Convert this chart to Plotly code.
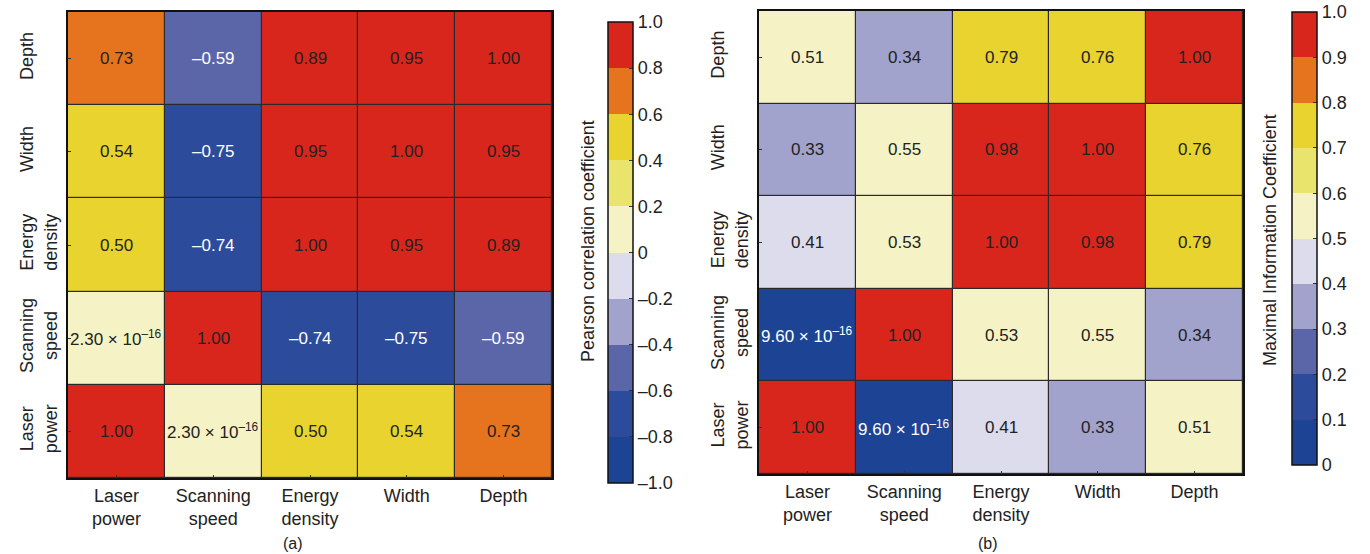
import plotly.graph_objects as go

# ---------------- data ----------------
features = ["Laser power", "Scanning speed", "Energy density", "Width", "Depth"]
x_tick_labels = ["Laser<br>power", "Scanning<br>speed", "Energy<br>density", "Width", "Depth"]
y_tick_labels = ["Laser<br>power", "Scanning<br>speed", "Energy<br>density", "Width<br>\u00a0", "Depth<br>\u00a0"]

# rows listed from bottom (Laser power) to top (Depth); columns in feature order
pearson = [
    [1.00, 2.30e-16, 0.50, 0.54, 0.73],
    [2.30e-16, 1.00, -0.74, -0.75, -0.59],
    [0.50, -0.74, 1.00, 0.95, 0.89],
    [0.54, -0.75, 0.95, 1.00, 0.95],
    [0.73, -0.59, 0.89, 0.95, 1.00],
]
mic = [
    [1.00, 9.60e-16, 0.41, 0.33, 0.51],
    [9.60e-16, 1.00, 0.53, 0.55, 0.34],
    [0.41, 0.53, 1.00, 0.98, 0.79],
    [0.33, 0.55, 0.98, 1.00, 0.76],
    [0.51, 0.34, 0.79, 0.76, 1.00],
]

pearson_ticks = [-1.0, -0.8, -0.6, -0.4, -0.2, 0, 0.2, 0.4, 0.6, 0.8, 1.0]
pearson_ticktext = ["–1.0", "–0.8", "–0.6", "–0.4", "–0.2", "0", "0.2", "0.4", "0.6", "0.8", "1.0"]
mic_ticks = [0, 0.1, 0.2, 0.3, 0.4, 0.5, 0.6, 0.7, 0.8, 0.9, 1.0]
mic_ticktext = ["0", "0.1", "0.2", "0.3", "0.4", "0.5", "0.6", "0.7", "0.8", "0.9", "1.0"]

bin_colors = ["#1d4494", "#2d4b9b", "#5b66a9", "#a2a3cc", "#dcdcec",
              "#f5f3c6", "#e8e46c", "#e8d32f", "#e6741f", "#d9261c"]

# ---------------- helpers ----------------
def discrete_scale(colors):
    n = len(colors)
    cs = []
    for i, c in enumerate(colors):
        cs.append([i / n, c])
        cs.append([(i + 1) / n, c])
    return cs

def fmt(v):
    if v != 0 and abs(v) < 1e-3:
        s = f"{v:.2e}"
        mant, exp = s.split("e")
        exp = int(exp)
        e = ("–" if exp < 0 else "") + str(abs(exp))
        return f"{mant} × 10<sup>{e}</sup>"
    s = f"{v:.2f}"
    return s.replace("-", "–")

FONT = "Arial, Liberation Sans, Helvetica, sans-serif"
TXT = "#222222"
scale = discrete_scale(bin_colors)

fig = go.Figure()

W, H = 1370, 554
panels = [
    dict(z=pearson, zmin=-1, zmax=1, xa="x", ya="y",
         dom_x=[68 / W, 552 / W], dom_y=[1 - 478 / H, 1 - 12 / H],
         cb_x=608 / W, cb_top=1 - 22 / H, cb_len=461 / H,
         tv=pearson_ticks, tt=pearson_ticktext,
         title="Pearson correlation coefficient", title_x=588 / W, title_y=1 - 241 / H),
    dict(z=mic, zmin=0, zmax=1, xa="x2", ya="y2",
         dom_x=[759 / W, 1243 / W], dom_y=[1 - 474 / H, 1 - 11 / H],
         cb_x=1292 / W, cb_top=1 - 12 / H, cb_len=453 / H,
         tv=mic_ticks, tt=mic_ticktext,
         title="Maximal Information Coefficient", title_x=1270 / W, title_y=1 - 240 / H),
]

annotations = []
for p in panels:
    fig.add_trace(go.Heatmap(
        z=p["z"], x=features, y=features,
        xaxis=p["xa"], yaxis=p["ya"],
        zmin=p["zmin"], zmax=p["zmax"], colorscale=scale,
        xgap=1.2, ygap=1.2, hoverinfo="skip",
        colorbar=dict(
            x=p["cb_x"], xanchor="left", y=p["cb_top"], yanchor="top",
            len=p["cb_len"], lenmode="fraction", thickness=25,
            xpad=0, ypad=0, outlinewidth=1.5, outlinecolor="#111111",
            tickvals=p["tv"], ticktext=p["tt"], ticks="inside", ticklen=4,
            tickcolor="#333333", tickfont=dict(family=FONT, size=18, color=TXT),
        ),
    ))
    zmin, zmax = p["zmin"], p["zmax"]
    for r, row in enumerate(p["z"]):
        for c, v in enumerate(row):
            frac = (v - zmin) / (zmax - zmin)
            color = "white" if frac < 0.3 else TXT
            annotations.append(dict(
                x=features[c], y=features[r], xref=p["xa"], yref=p["ya"],
                text=fmt(v), showarrow=False,
                font=dict(family=FONT, size=17, color=color),
            ))
    annotations.append(dict(
        x=p["title_x"], y=p["title_y"], xref="paper", yref="paper",
        text=p["title"], textangle=-90, showarrow=False,
        font=dict(family=FONT, size=18, color=TXT),
        xanchor="center", yanchor="middle",
    ))

for label, px in (("(a)", 293), ("(b)", 988)):
    annotations.append(dict(x=px / W, y=1 - 543 / H, xref="paper", yref="paper", text=label,
                            xanchor="center", yanchor="middle",
                            showarrow=False, font=dict(family=FONT, size=16, color=TXT)))

axis_common = dict(
    showline=True, mirror=True, linecolor="#111111", linewidth=2,
    showgrid=False, zeroline=False, ticks="inside", ticklen=3, tickcolor="#333333",
    tickfont=dict(family=FONT, size=18, color=TXT),
    tickmode="array", tickvals=features,
)

fig.update_layout(
    width=W, height=H,
    margin=dict(l=0, r=0, t=0, b=0),
    paper_bgcolor="white", plot_bgcolor="#2a2a2a",
    showlegend=False,
    xaxis=dict(domain=panels[0]["dom_x"], anchor="y", ticktext=x_tick_labels, **axis_common),
    yaxis=dict(domain=panels[0]["dom_y"], anchor="x", tickangle=-90, ticktext=y_tick_labels,
               ticklabelstandoff=2, **axis_common),
    xaxis2=dict(domain=panels[1]["dom_x"], anchor="y2", ticktext=x_tick_labels, **axis_common),
    yaxis2=dict(domain=panels[1]["dom_y"], anchor="x2", tickangle=-90, ticktext=y_tick_labels,
                ticklabelstandoff=2, **axis_common),
    annotations=annotations,
)

fig.write_html("out.html")
